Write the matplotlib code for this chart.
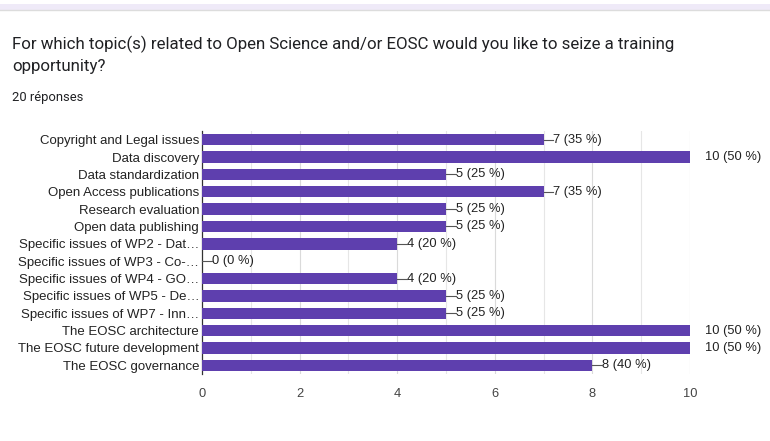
import numpy as np
import matplotlib.pyplot as plt
from matplotlib.patches import Rectangle

title_lines = ["For which topic(s) related to Open Science and/or EOSC would you like to seize a training",
               "opportunity?"]
n_responses = "20 réponses"

topics = ["Copyright and Legal issues",
          "Data discovery",
          "Data standardization",
          "Open Access publications",
          "Research evaluation",
          "Open data publishing",
          "Specific issues of WP2 - Dat…",
          "Specific issues of WP3 - Co-…",
          "Specific issues of WP4 - GO…",
          "Specific issues of WP5 - De…",
          "Specific issues of WP7 - Inn…",
          "The EOSC architecture",
          "The EOSC future development",
          "The EOSC governance"]
counts = [7, 10, 5, 7, 5, 5, 4, 0, 4, 5, 5, 10, 10, 8]
total = 20
x_ticks = [0, 2, 4, 6, 8, 10]

W, H = 770, 441
fig = plt.figure(figsize=(W / 100, H / 100), dpi=100)
fig.patch.set_facecolor("white")

# top band of the form page
fig.add_artist(Rectangle((0, 1 - 9.5 / H), 1, 5.5 / H, transform=fig.transFigure,
                         facecolor="#efeaf8", edgecolor="none"))
fig.add_artist(plt.Line2D([0, 1], [1 - 10 / H, 1 - 10 / H], transform=fig.transFigure,
                          color="#dcdcdc", lw=1))

fig.text(12 / W, 1 - 44 / H, title_lines[0], family="Roboto", fontsize=12.2,
         color="#202124", va="center")
fig.text(12 / W, 1 - 67 / H, title_lines[1], family="Roboto", fontsize=12.2,
         color="#202124", va="center")
fig.text(12 / W, 1 - 97 / H, n_responses, family="Roboto", fontsize=9.4,
         color="#202124", va="center")

ax = fig.add_axes([202 / W, 1 - 374 / H, (690 - 202) / W, (374 - 131) / H])
y = np.arange(len(topics))
ax.barh(y, counts, height=0.66, color="#5e3fae", zorder=3)
ax.set_ylim(len(topics) - 0.5, -0.5)
ax.set_xlim(0, 10)

for xv in range(1, 11):
    ax.axvline(xv, color="#e6e6e6" if xv % 2 else "#dadada", lw=0.8, zorder=1)

for yi, c in zip(y, counts):
    lab = f"{c} ({c / total * 100:.0f} %)"
    if c >= 10:
        ax.text(10.3, yi, lab, va="center", ha="left", fontsize=9.3,
                family="Liberation Sans", color="#222222")
    else:
        ax.plot([c, c + 0.2], [yi, yi], color="#555555", lw=0.8, zorder=4, clip_on=False)
        ax.text(c + 0.2, yi, lab, va="center", ha="left", fontsize=9.3,
                family="Liberation Sans", color="#222222")

ax.set_yticks(y)
ax.set_yticklabels(topics, family="Liberation Sans", fontsize=9.5, color="#222222")
ax.set_xticks(x_ticks)
ax.set_xticklabels([str(t) for t in x_ticks], family="Liberation Sans", fontsize=9.3,
                   color="#444444")
ax.tick_params(axis="y", length=0, pad=2)
ax.tick_params(axis="x", length=0, pad=10)
for s in ["top", "right", "bottom"]:
    ax.spines[s].set_visible(False)
ax.spines["left"].set_color("#333333")
ax.spines["left"].set_linewidth(0.9)

fig.savefig("out.png", dpi=100)
